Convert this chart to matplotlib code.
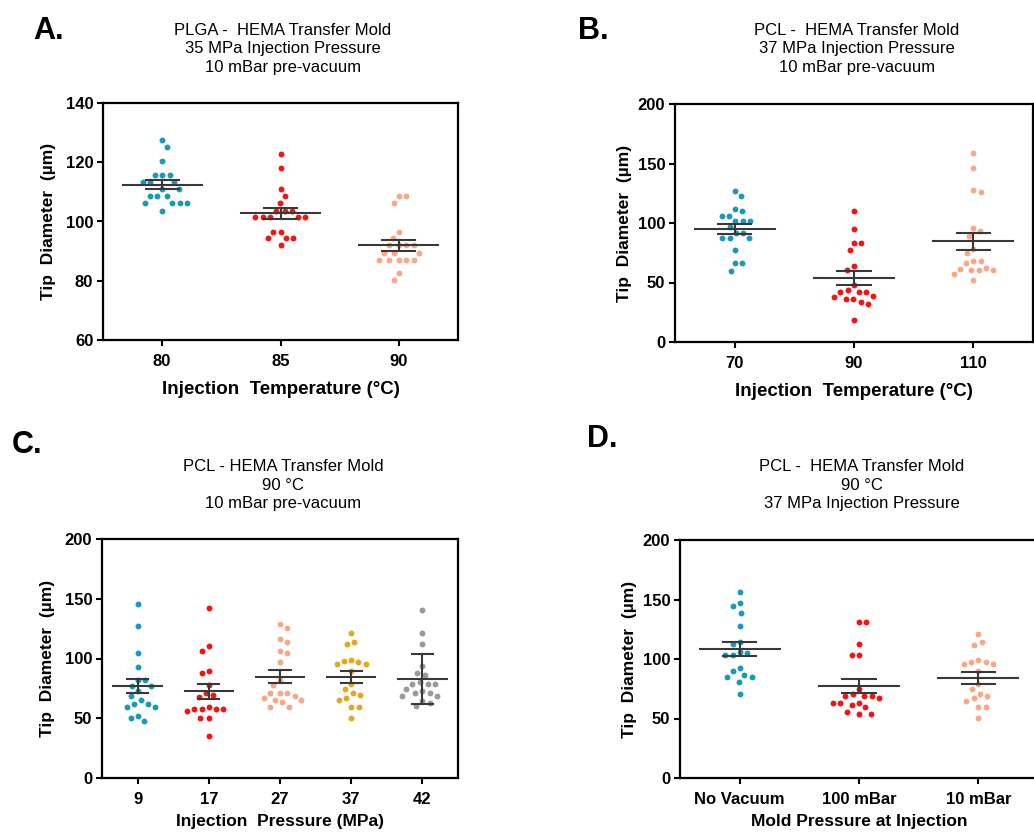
import numpy as np
import matplotlib
matplotlib.use("Agg")
import matplotlib.pyplot as plt

plt.rcParams["font.family"] = ["Liberation Sans", "DejaVu Sans"]

# ---- data: tip diameters (µm) per condition ----
a_labels = ["80", "85", "90"]
a_80 = [127.4, 125.1, 120.5, 115.7, 115.7, 115.7, 113.2, 113.2, 113.2, 110.9,
        110.9, 108.5, 108.5, 108.5, 106.2, 106.2, 106.2, 106.2, 103.7]
a_85 = [122.8, 117.9, 110.9, 108.5, 106.2, 103.7, 103.7, 103.7, 101.5, 101.5,
        101.5, 101.5, 101.5, 96.6, 96.6, 94.4, 94.4, 94.4, 91.9]
a_90 = [108.5, 108.5, 106.1, 96.6, 94.4, 91.9, 91.9, 91.9, 91.9, 89.5,
        89.5, 89.5, 87.0, 87.0, 87.0, 87.0, 87.0, 82.5, 80.1]

b_labels = ["70", "90", "110"]
b_70 = [126.5, 122.3, 111.6, 110.2, 106.3, 106.3, 102.1, 102.1, 102.1, 96.8,
        91.7, 91.7, 87.0, 87.0, 87.0, 76.9, 66.5, 66.5, 59.5]
b_90 = [110.5, 95.1, 83.6, 83.6, 77.1, 63.7, 60.3, 48.0, 44.0, 41.8,
        41.8, 41.8, 38.7, 37.9, 36.2, 36.2, 34.0, 32.3, 18.8]
b_110 = [158.6, 146.5, 127.7, 126.3, 96.1, 93.5, 89.3, 77.9, 74.5, 67.8,
         67.8, 66.1, 62.5, 61.1, 60.1, 60.1, 60.1, 57.1, 51.8]

c_labels = ["9", "17", "27", "37", "42"]
c_9 = [145.9, 126.9, 104.3, 93.2, 82.0, 82.0, 76.7, 76.7, 72.5, 68.9,
       65.0, 61.9, 61.6, 59.1, 59.1, 52.2, 49.9, 48.0]
c_17 = [142.3, 110.2, 106.6, 89.8, 87.6, 78.1, 70.9, 69.2, 67.5, 59.4,
        58.0, 58.0, 58.0, 58.0, 55.8, 50.2, 50.2, 35.1]
c_27 = [128.9, 125.2, 116.0, 114.1, 106.6, 104.6, 97.1, 81.7, 78.1, 71.1,
        71.1, 71.1, 69.0, 66.9, 65.0, 65.0, 63.3, 59.4, 59.4]
c_37 = [121.3, 114.1, 112.1, 99.0, 97.6, 97.1, 95.4, 95.4, 89.8, 78.7,
        74.8, 70.9, 69.2, 66.9, 65.0, 59.4, 59.4, 50.2]
c_42 = [140.3, 121.3, 112.1, 93.4, 87.9, 85.9, 80.3, 78.7, 78.7, 78.7,
        74.8, 72.5, 71.1, 71.1, 68.3, 68.3, 64.2, 62.8, 60.0]
c_err = ["sem", "sem", "sem", "sem", "sd"]

d_labels = ["No Vacuum", "100 mBar", "10 mBar"]
d_none = [156.1, 146.9, 144.6, 139.0, 127.6, 114.7, 112.7, 105.7, 105.2, 103.2,
          103.2, 92.3, 90.3, 86.2, 84.5, 84.5, 80.6, 71.0]
d_100 = [131.1, 131.1, 112.6, 103.1, 103.1, 74.5, 70.3, 68.9, 68.9, 68.9,
         67.2, 63.3, 63.3, 63.3, 61.3, 59.4, 55.7, 53.8, 53.8]
d_10 = c_37

TEAL = "#1c9ab3"
RED = "#f01414"
SALMON = "#f6a98a"
GOLD = "#deaa22"
GREY = "#9a9a9a"
BAR = "#383838"

W, H = 1034, 834
fig = plt.figure(figsize=(W / 100, H / 100), dpi=100)


def px_axes(left, top, right, bottom):
    return fig.add_axes([left / W, 1 - bottom / H, (right - left) / W, (bottom - top) / H])


def swarm_offsets(ax, xc, vals, gx, gy):
    """Spread points sideways so that no two fall inside a gx-by-gy pixel ellipse."""
    pts = ax.transData.transform(np.column_stack([np.full(len(vals), xc), vals]))
    ypx = pts[:, 1]
    order = np.argsort(-ypx, kind="stable")
    placed = []
    xs = np.zeros(len(vals))
    side = 1
    for i in order:
        y = ypx[i]
        cands = [0.0]
        forb = []
        for px, py in placed:
            dy = y - py
            if abs(dy) < gy:
                w = gx * np.sqrt(1 - (dy / gy) ** 2)
                forb.append((px - w, px + w))
                cands += [px - w, px + w]
        valid = [c for c in cands
                 if all(not (lo + 1e-6 < c < hi - 1e-6) for lo, hi in forb)]
        best = min(valid, key=lambda c: (round(abs(c), 3), side * c))
        side = -side
        xs[i] = best
        placed.append((best, y))
    unit = ax.transData.transform((1, 0))[0] - ax.transData.transform((0, 0))[0]
    return xc + xs / unit


def panel(ax, groups, colors, labels, ylim, yticks, errs=None,
          mean_hw=0.335, cap_hw=0.14):
    n = len(groups)
    ax.set_xlim(-0.5, n - 0.5)
    ax.set_ylim(*ylim)
    for i, (vals, col) in enumerate(zip(groups, colors)):
        vals = np.asarray(vals, float)
        xs = swarm_offsets(ax, i, vals, 7.4, 9.5)
        ax.scatter(xs, vals, s=18, color=col, linewidths=0, zorder=2)
        m = vals.mean()
        kind = errs[i] if errs else "sem"
        e = vals.std(ddof=1)
        if kind == "sem":
            e = e / np.sqrt(len(vals))
        ax.plot([i - mean_hw, i + mean_hw], [m, m], color=BAR, lw=1.5, zorder=3)
        ax.plot([i, i], [m - e, m + e], color=BAR, lw=1.5, zorder=3)
        for yy in (m - e, m + e):
            ax.plot([i - cap_hw, i + cap_hw], [yy, yy], color=BAR, lw=1.5, zorder=3)
    ax.set_yticks(yticks)
    ax.set_xticks(range(n))
    ax.set_xticklabels(labels)
    for s in ax.spines.values():
        s.set_linewidth(1.6)
        s.set_color("black")
    ax.tick_params(axis="both", direction="out", length=4, width=1.5,
                   labelsize=12, pad=3)
    ax.tick_params(axis="x", pad=6)
    for t in ax.get_yticklabels() + ax.get_xticklabels():
        t.set_fontweight("bold")


YLAB = "Tip  Diameter  (µm)"

# Panel A
axA = px_axes(103, 103, 458, 340)
panel(axA, [a_80, a_85, a_90], [TEAL, RED, SALMON], a_labels,
      (60, 140), [60, 80, 100, 120, 140])
axA.set_xlabel("Injection  Temperature (°C)", fontsize=13.5, fontweight="bold", labelpad=9)
axA.set_ylabel(YLAB, fontsize=12.5, fontweight="bold", labelpad=7)

# Panel B
axB = px_axes(675, 104, 1033, 342)
panel(axB, [b_70, b_90, b_110], [TEAL, RED, SALMON], b_labels,
      (0, 200), [0, 50, 100, 150, 200])
axB.set_xlabel("Injection  Temperature (°C)", fontsize=13.5, fontweight="bold", labelpad=9)
axB.set_ylabel(YLAB, fontsize=12.5, fontweight="bold", labelpad=4)

# Panel C
axC = px_axes(102, 539, 458, 778)
panel(axC, [c_9, c_17, c_27, c_37, c_42], [TEAL, RED, SALMON, GOLD, GREY],
      c_labels, (0, 200), [0, 50, 100, 150, 200], errs=c_err,
      mean_hw=0.34, cap_hw=0.15)
axC.set_xlabel("Injection  Pressure (MPa)", fontsize=12.5, fontweight="bold", labelpad=5)
axC.set_ylabel(YLAB, fontsize=12.5, fontweight="bold", labelpad=7)

# Panel D
axD = px_axes(680, 540, 1038, 778)
panel(axD, [d_none, d_100, d_10], [TEAL, RED, SALMON], d_labels,
      (0, 200), [0, 50, 100, 150, 200])
axD.set_xlabel("Mold Pressure at Injection", fontsize=12.5, fontweight="bold", labelpad=5)
axD.set_ylabel(YLAB, fontsize=12.5, fontweight="bold", labelpad=4)


def ftext(x, y, s, **kw):
    fig.text(x / W, 1 - y / H, s, **kw)


# Panel letters
ftext(33, 31, "A.", fontsize=22, fontweight="bold", va="center", ha="left")
ftext(578, 31, "B.", fontsize=22, fontweight="bold", va="center", ha="left")
ftext(12, 445, "C.", fontsize=22, fontweight="bold", va="center", ha="left")
ftext(587, 439, "D.", fontsize=22, fontweight="bold", va="center", ha="left")

# Condition headers
hdr = dict(fontsize=12, ha="center", va="center", linespacing=1.32)
ftext(283, 49, "PLGA -  HEMA Transfer Mold\n35 MPa Injection Pressure\n10 mBar pre-vacuum", **hdr)
ftext(857, 49, "PCL -  HEMA Transfer Mold\n37 MPa Injection Pressure\n10 mBar pre-vacuum", **hdr)
ftext(283, 485, "PCL - HEMA Transfer Mold\n90 °C\n10 mBar pre-vacuum", **hdr)
ftext(862, 485, "PCL -  HEMA Transfer Mold\n90 °C\n37 MPa Injection Pressure", **hdr)

fig.savefig("out.png", dpi=100, facecolor="white")
